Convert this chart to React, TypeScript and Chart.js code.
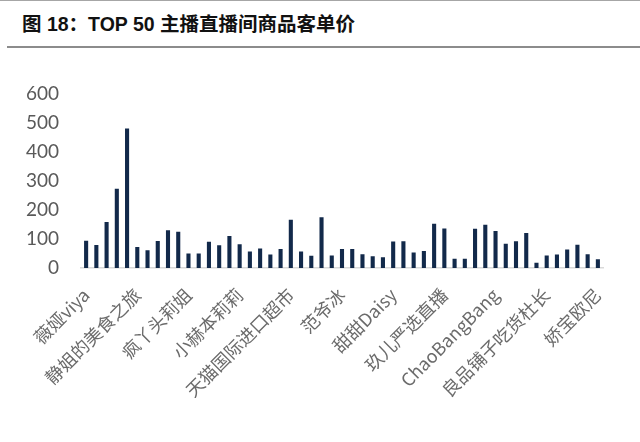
import React, { useEffect, useRef } from "react";
import { Chart, registerables } from "chart.js";

Chart.register(...registerables);

const TITLE = "图 18：TOP 50 主播直播间商品客单价";

// 51 anchors; only every 5th name is printed on the axis in the source picture
const categories: string[] = [
  "薇娅viya", "", "", "", "",
  "静姐的美食之旅", "", "", "", "",
  "疯丫头莉姐", "", "", "", "",
  "小赫本莉莉", "", "", "", "",
  "天猫国际进口超市", "", "", "", "",
  "范爷冰", "", "", "", "",
  "甜甜Daisy", "", "", "", "",
  "玖儿严选直播", "", "", "", "",
  "ChaoBangBang", "", "", "", "",
  "良品铺子吃货杜长", "", "", "", "",
  "娇宝欧尼",
];

const values: number[] = [
  94, 79, 158, 272, 479, 72, 61, 93, 130, 125,
  50, 50, 90, 78, 110, 82, 57, 67, 46, 65,
  166, 57, 42, 174, 43, 65, 65, 47, 40, 37,
  91, 92, 53, 58, 152, 136, 32, 32, 135, 149,
  127, 83, 92, 120, 18, 43, 46, 64, 80, 47, 30,
];

const yTicks: number[] = [0, 100, 200, 300, 400, 500, 600];

export default function App() {
  const ref = useRef<HTMLCanvasElement | null>(null);

  useEffect(() => {
    if (!ref.current) return;
    const chart = new Chart(ref.current, {
      type: "bar",
      data: {
        labels: categories,
        datasets: [
          {
            data: values,
            backgroundColor: "#12294a",
            barPercentage: 0.4,
            categoryPercentage: 1,
          },
        ],
      },
      options: {
        animation: false,
        responsive: false,
        maintainAspectRatio: false,
        devicePixelRatio: 1,
        layout: { padding: { left: 0, right: 37, top: 22, bottom: 0 } },
        plugins: { legend: { display: false }, tooltip: { enabled: false } },
        scales: {
          x: {
            grid: { display: false, drawTicks: false },
            border: { display: true, color: "#d9d9d9", width: 1.5 },
            ticks: {
              autoSkip: false,
              maxRotation: 45,
              minRotation: 45,
              padding: 16,
              color: "#6b6b6b",
              font: { family: "'Noto Sans CJK SC', 'Noto Sans'", size: 18 },
            },
            afterFit: (s: any) => {
              s.height = 174;
            },
          },
          y: {
            min: 0,
            max: 600,
            afterBuildTicks: (s: any) => {
              s.ticks = yTicks.map((v) => ({ value: v }));
            },
            grid: { display: false, drawTicks: false },
            border: { display: false },
            ticks: {
              padding: 22,
              color: "#595959",
              font: { family: "Lato, 'Open Sans', sans-serif", size: 19 },
            },
            afterFit: (s: any) => {
              s.width = 81;
            },
          },
        },
      },
    });
    return () => chart.destroy();
  }, []);

  return (
    <div style={{ position: "absolute", left: 0, top: 0, width: 640, height: 442, background: "#fff", overflow: "hidden" }}>
      <div style={{ position: "absolute", left: 0, top: 0, width: 640, height: 1, background: "#a6a6a6" }} />
      <div
        style={{
          position: "absolute",
          left: 22,
          top: 9.5,
          fontFamily: "'Liberation Sans', 'Noto Sans CJK SC', sans-serif",
          fontWeight: "bold",
          fontSize: 19.5,
          color: "#111",
          whiteSpace: "nowrap",
          lineHeight: "28px",
        }}
      >
        {TITLE}
      </div>
      <div style={{ position: "absolute", left: 7, top: 46, width: 633, height: 2, background: "#8c8c8c" }} />
      <canvas ref={ref} width={640} height={382} style={{ position: "absolute", left: 0, top: 60, width: 640, height: 382 }} />
    </div>
  );
}
